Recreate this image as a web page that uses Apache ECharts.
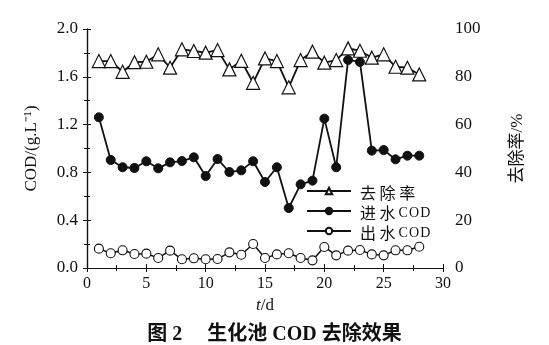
<!DOCTYPE html>
<html><head><meta charset="utf-8">
<script src="https://cdn.jsdelivr.net/npm/echarts@6/dist/echarts.min.js"></script>
<style>html,body{margin:0;padding:0;background:#fff}#c{width:549px;height:345px}</style>
</head><body><div id="c"></div>
<script>
const days = [1,2,3,4,5,6,7,8,9,10,11,12,13,14,15,16,17,18,19,20,21,22,23,24,25,26,27,28];
const removalRate = [86.6,86.6,82.1,86.1,86.3,89.4,83.8,91.5,90.8,90.1,91.2,83.1,86.7,77.5,87.7,86.6,75.6,87.0,90.5,85.9,87.0,91.9,90.9,88.0,89.4,84.2,83.8,81.0];
const influentCOD = [1.261,0.904,0.843,0.837,0.893,0.834,0.884,0.895,0.926,0.770,0.912,0.803,0.817,0.893,0.720,0.843,0.502,0.700,0.731,1.250,0.843,1.741,1.724,0.982,0.987,0.909,0.940,0.940];
const effluentCOD = [0.162,0.123,0.148,0.117,0.120,0.084,0.145,0.073,0.081,0.073,0.075,0.131,0.111,0.201,0.084,0.114,0.123,0.084,0.064,0.176,0.106,0.145,0.151,0.114,0.106,0.148,0.148,0.178];
const seriesNames = ['去除率','进水COD','出水COD'];

const serif = '"Liberation Serif","Times New Roman",serif';
const chart = echarts.init(document.getElementById('c'), null, {renderer:'canvas'});
const pair = arr => arr.map((v,i)=>[days[i],v]);
function legendFmt(n){
  const m = n.match(/^([^A-Z]+)([A-Z]*)$/);
  const cjk = m[1].split('').join(' ');
  const lat = m[2] ? m[2].split('').join('\u200A') : '';
  return '{c|' + cjk + '}' + (lat ? '{l|\u2009' + lat + '}' : '');
}
chart.setOption({
  animation:false,
  backgroundColor:'#fff',
  title:{text:'图 2     生化池 COD 去除效果',left:'center',top:320,
    textStyle:{fontFamily:'"Liberation Serif","Noto Sans CJK SC",serif',fontSize:20,fontWeight:'bold',color:'#111'}},
  grid:{left:87,right:106,top:29,bottom:77},
  legend:{orient:'vertical',left:301,top:180,itemWidth:44,itemHeight:8,itemGap:4,
    data:seriesNames,
    formatter:legendFmt,
    textStyle:{fontFamily:'"Noto Sans CJK SC",serif',fontSize:16,color:'#111',padding:[0,0,0,4],
      rich:{c:{fontFamily:'"Noto Sans CJK SC",serif',fontSize:16,color:'#111',lineHeight:20,verticalAlign:'bottom'},
            l:{fontFamily:serif,fontSize:14,color:'#111',lineHeight:20,verticalAlign:'bottom',padding:[0,0,1,0]}}}},
  xAxis:[
    {type:'value',min:0,max:30,interval:5,position:'bottom',
      name:'{i|t}/d',nameLocation:'middle',nameGap:28,
      nameTextStyle:{fontFamily:serif,fontSize:17,color:'#111',
        rich:{i:{fontFamily:serif,fontSize:17,fontStyle:'italic',color:'#111'}}},
      axisLine:{lineStyle:{color:'#111',width:1.2}},
      axisTick:{inside:true,length:4,lineStyle:{color:'#111'}},
      minorTick:{show:true,splitNumber:2,length:3,lineStyle:{color:'#111'}},
      axisLabel:{fontFamily:serif,fontSize:16,color:'#111',margin:8},
      splitLine:{show:false}},
    {type:'value',min:0,max:30,interval:5,position:'top',
      axisLine:{lineStyle:{color:'#111',width:1.2}},
      axisTick:{inside:true,length:4,lineStyle:{color:'#111'}},
      minorTick:{show:true,splitNumber:2,length:3,lineStyle:{color:'#111'}},
      axisLabel:{show:false},splitLine:{show:false}}
  ],
  yAxis:[
    {type:'value',min:0,max:2.0,interval:0.4,position:'left',
      name:'COD/(g.L⁻¹)',nameLocation:'middle',nameGap:47,nameRotate:90,
      nameTextStyle:{fontFamily:serif,fontSize:17,color:'#111'},
      axisLine:{show:true,lineStyle:{color:'#111',width:1.2}},
      axisTick:{inside:true,length:4,lineStyle:{color:'#111'}},
      minorTick:{show:true,splitNumber:2,length:3,lineStyle:{color:'#111'}},
      axisLabel:{fontFamily:serif,fontSize:17,color:'#111',margin:9,formatter:v=>v.toFixed(1)},
      splitLine:{show:false}},
    {type:'value',min:0,max:100,interval:20,position:'right',
      name:'去除率/%',nameLocation:'middle',nameGap:66,nameRotate:90,
      nameTextStyle:{fontFamily:'"Liberation Serif","Noto Sans CJK SC",serif',fontSize:17,color:'#111'},
      axisLine:{show:true,lineStyle:{color:'#111',width:1.2}},
      axisTick:{inside:true,length:4,lineStyle:{color:'#111'}},
      minorTick:{show:true,splitNumber:2,length:3,lineStyle:{color:'#111'}},
      axisLabel:{fontFamily:serif,fontSize:17,color:'#111',margin:12},
      splitLine:{show:false}}
  ],
  series:[
    {name:seriesNames[0],type:'line',yAxisIndex:1,data:pair(removalRate),
      symbol:'triangle',symbolSize:13,
      lineStyle:{color:'#111',width:1.8},
      itemStyle:{color:'#fff',borderColor:'#111',borderWidth:1.2}},
    {name:seriesNames[1],type:'line',yAxisIndex:0,data:pair(influentCOD),
      symbol:'circle',symbolSize:9,
      lineStyle:{color:'#111',width:1.8},
      itemStyle:{color:'#111',borderColor:'#111',borderWidth:1}},
    {name:seriesNames[2],type:'line',yAxisIndex:0,data:pair(effluentCOD),
      symbol:'circle',symbolSize:9,
      lineStyle:{color:'#111',width:1.5},
      itemStyle:{color:'#fff',borderColor:'#111',borderWidth:1.1}}
  ]
});
</script></body></html>
